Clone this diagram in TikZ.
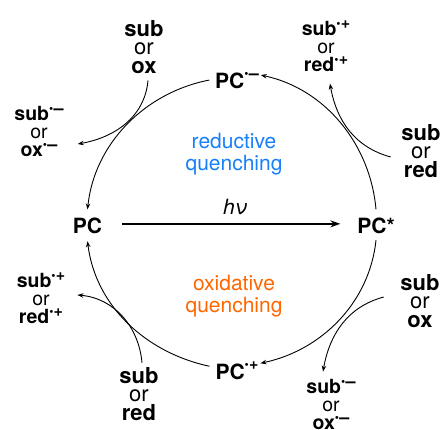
\documentclass[tikz,border=0pt]{standalone}
\usepackage{fontspec}
\setmainfont{TeX Gyre Heros}
\usetikzlibrary{arrows.meta}
\definecolor{redblue}{RGB}{22,128,250}
\definecolor{oxorange}{RGB}{255,102,0}
\newcommand{\rdot}[1]{\raisebox{\dimexpr#1-3.0pt\relax}{\fontsize{12}{12}\selectfont •}\kern0.2pt}
\newcommand{\rdm}[1]{\rdot{#1}\raisebox{\dimexpr#1-5pt\relax}{\fontsize{18}{18}\selectfont\bfseries –}}
\newcommand{\rdp}[1]{\rdot{#1}\raisebox{\dimexpr#1-4pt\relax}{\fontsize{16}{16}\selectfont\bfseries +}}
\begin{document}
\begin{tikzpicture}[x=1pt,y=1pt,
  every node/.style={font=\fontsize{21}{18.5}\selectfont},
  pcnode/.style={font=\fontsize{21}{21}\selectfont\bfseries, inner sep=2pt, outer sep=0pt, anchor=base},
  instack/.style={align=center, inner sep=2pt, font=\fontsize{22}{18.5}\selectfont},
  outstack/.style={align=center, inner sep=2pt, font=\fontsize{19.5}{18}\selectfont},
  arr/.style={-{Stealth[length=6pt,width=4.5pt]}, line width=0.9pt},
  big/.style={-{Stealth[length=10pt,width=7pt]}, line width=1.5pt},
  quench/.style={align=center, font=\fontsize{21}{22}\selectfont}]
\useasboundingbox (0,0) rectangle (442,430);
% main species
\node[pcnode] (pc)  at (87.5,196) {PC};
\node[pcnode] (pcs) at (376,196)  {PC*};
\node[pcnode] (pcm) at (237,341)  {PC\rdm{14pt}};
\node[pcnode] (pcp) at (237,50)   {PC\rdp{14pt}};
\node[anchor=base] (hv) at (235,215) {\itshape hν};
% quenching labels
\node[quench, text=redblue]  (rq) at (234,276) {reductive\\quenching};
\node[quench, text=oxorange] (oq) at (234,134) {oxidative\\quenching};
% reagent stacks
\node[instack]  (tlin)  at (144,383.4) {\textbf{sub}\\or\\\textbf{ox}};
\node[outstack] (tlout) at (39,299)    {\textbf{sub\rdm{11pt}}\\or\\\textbf{ox\rdm{11pt}}};
\node[outstack] (trout) at (326,384)   {\textbf{sub\rdp{11pt}}\\or\\\textbf{red\rdp{11pt}}};
\node[instack]  (trin)  at (421,279.4) {\textbf{sub}\\or\\\textbf{red}};
\node[outstack] (blout) at (41,132)    {\textbf{sub\rdp{11pt}}\\or\\\textbf{red\rdp{11pt}}};
\node[instack]  (blin)  at (139,36.4)  {\textbf{sub}\\or\\\textbf{red}};
\node[instack]  (brin)  at (420,129.4) {\textbf{sub}\\or\\\textbf{ox}};
\node[outstack] (brout) at (331,26)    {\textbf{sub\rdm{11pt}}\\or\\\textbf{ox\rdm{11pt}}};
% light absorption
\draw[big] ([shift={(18pt,2.5pt)}]pc.east) -- ([shift={(-15pt,2.5pt)}]pcs.west);
% catalytic cycle
\draw[arr] ([yshift=7pt]pcs.north) to[out=95,in=-12,looseness=0.95] ([yshift=6pt]pcm.east);
\draw[arr] ([shift={(-4pt,1pt)}]pcm.west) to[out=191,in=84,looseness=0.95] ([yshift=7pt]pc.north);
\draw[arr] ([yshift=-4pt]pcs.south) to[out=-96,in=12,looseness=0.95] ([yshift=8pt]pcp.east);
\draw[arr] ([shift={(-4pt,5pt)}]pcp.west) to[out=168,in=-83,looseness=0.95] ([yshift=-5pt]pc.south);
% electron transfer arrows
\draw[arr] ([shift={(4pt,-5pt)}]tlin.south) to[out=-95,in=10] ([shift={(12pt,-13pt)}]tlout.east);
\draw[arr] ([shift={(-8.5pt,-6.4pt)}]trin.west) to[out=165,in=-80] ([shift={(4pt,-10pt)}]trout.south);
\draw[arr] ([shift={(3pt,2pt)}]blin.north) to[out=95,in=-5] ([shift={(10pt,3pt)}]blout.east);
\draw[arr] ([shift={(-14.5pt,3.6pt)}]brin.west) to[out=195,in=80] ([shift={(-8pt,5pt)}]brout.north);
\end{tikzpicture}
\end{document}
